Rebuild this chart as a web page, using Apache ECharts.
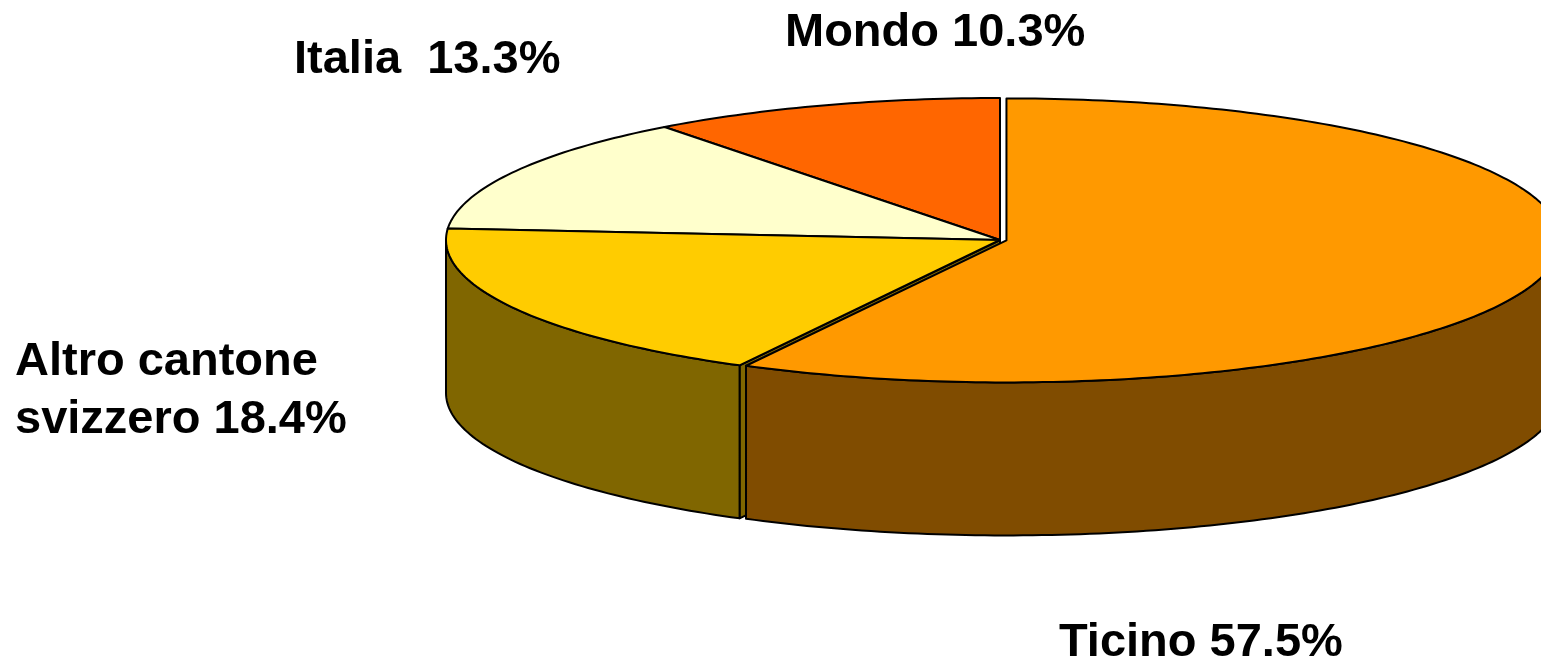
<!DOCTYPE html>
<html><head><meta charset="utf-8">
<script src="https://cdn.jsdelivr.net/npm/echarts@6/dist/echarts.min.js"></script>
<style>html,body{margin:0;padding:0;background:#fff}#c{width:1541px;height:664px}</style>
</head><body><div id="c"></div>
<script>
// ---- data ----
const categories = ['Mondo', 'Italia', 'Altro cantone\nsvizzero', 'Ticino'];
const values = [10.3, 13.3, 18.4, 57.5];
// ---- styles / layout ----
const topColors = ['#FF6600', '#FFFFCC', '#FFCC00', '#FF9900'];
const sideColors = ['#803300', '#808066', '#806600', '#804C00'];
const exploded = [0, 0, 0, 0.012];
const labelSep = [' ', '  ', ' ', ' '];
const labelPos = [[785, 31], [294, 58.5], [15, 360], [1059, 641.5]]; // left x, cap-centre y of first line
const geo = { cx: 1000, cy: 240, rx: 554, ry: 142, depth: 153, startDeg: 90 };

const total = values.reduce((a, b) => a + b, 0);
const starts = [];
{ let acc = 0; values.forEach(v => { starts.push(acc); acc += v; }); }

const D2R = Math.PI / 180;
function renderItem(params, api) {
  const i = params.dataIndex;
  const v = api.value(1), s = api.value(2);
  const a0 = geo.startDeg + s / total * 360;
  const a1 = a0 + v / total * 360;
  const mid = (a0 + a1) / 2 * D2R;
  const e = exploded[i];
  const ox = geo.cx + e * geo.rx * Math.cos(mid);
  const oy = geo.cy - e * geo.ry * Math.sin(mid);
  const pt = (deg, dz) => [ox + geo.rx * Math.cos(deg * D2R), oy - geo.ry * Math.sin(deg * D2R) + dz];
  const arc = (d0, d1, dz) => {
    const n = Math.max(2, Math.ceil(Math.abs(d1 - d0)));
    const out = [];
    for (let k = 0; k <= n; k++) out.push(pt(d0 + (d1 - d0) * k / n, dz));
    return out;
  };
  const line = { stroke: '#000', lineWidth: 2, lineJoin: 'round' };
  const children = [];
  // top face
  children.push({ type: 'polygon', z2: 30, shape: { points: [[ox, oy]].concat(arc(a0, a1, 0)) },
    style: Object.assign({ fill: topColors[i] }, line) });
  // outer curved wall (front half only)
  for (const k of [-360, 0, 360]) {
    const lo = Math.max(a0, 180 + k), hi = Math.min(a1, 360 + k);
    if (hi > lo) {
      children.push({ type: 'polygon', z2: 20,
        shape: { points: arc(lo, hi, 0).concat(arc(hi, lo, geo.depth)) },
        style: Object.assign({ fill: sideColors[i] }, line) });
    }
  }
  // radial walls
  const c0 = [ox, oy], c1 = [ox, oy + geo.depth];
  if (Math.cos(a1 * D2R) < -1e-6) {
    children.push({ type: 'polygon', z2: 10,
      shape: { points: [c0, pt(a1, 0), pt(a1, geo.depth), c1] },
      style: Object.assign({ fill: sideColors[i] }, line) });
  }
  if (Math.cos(a0 * D2R) > 1e-6) {
    children.push({ type: 'polygon', z2: 10,
      shape: { points: [c0, pt(a0, 0), pt(a0, geo.depth), c1] },
      style: Object.assign({ fill: sideColors[i] }, line) });
  }
  return { type: 'group', children };
}

const FS = 47, LH = 58;
const labels = categories.map((c, i) => ({
  type: 'text', left: labelPos[i][0], top: labelPos[i][1] + 2 - LH / 2,
  style: {
    text: c + labelSep[i] + values[i].toFixed(1) + '%',
    fontFamily: '"Liberation Sans", Arial, sans-serif', fontWeight: 'bold', fontSize: FS,
    lineHeight: LH, fill: '#000', align: 'left', verticalAlign: 'top'
  }
}));

const chart = echarts.init(document.getElementById('c'), null, { renderer: 'canvas' });
chart.setOption({
  animation: false,
  backgroundColor: '#fff',
  series: [{
    type: 'custom', coordinateSystem: 'none', renderItem,
    data: values.map((v, i) => [i, v, starts[i]])
  }],
  graphic: labels
});
</script></body></html>
